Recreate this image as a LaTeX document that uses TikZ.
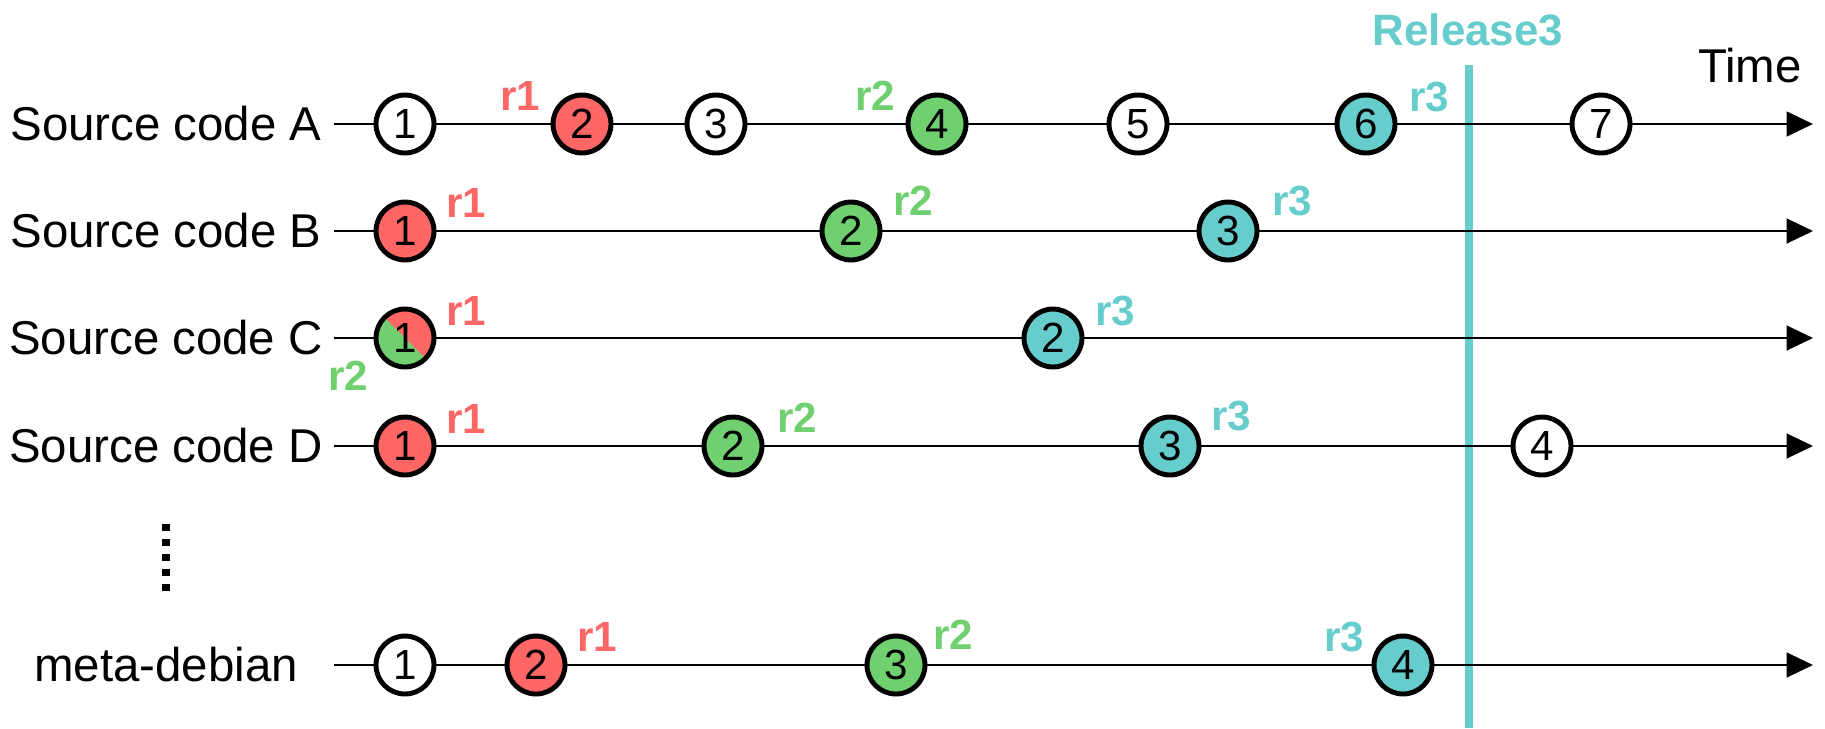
\documentclass[tikz,border=0pt]{standalone}
\usepackage{fontspec}
\setmainfont{Liberation Sans}
\usetikzlibrary{arrows.meta}

\definecolor{rred}{RGB}{255,102,102}
\definecolor{rgreen}{RGB}{112,208,112}
\definecolor{rcyan}{RGB}{102,204,204}

\begin{document}
\begin{tikzpicture}[x=0.02cm,y=-0.02cm,
  commit/.style={circle,draw,line width=2.8pt,minimum size=1.16cm,inner sep=0pt,fill=white,font=\fontsize{24}{26}\selectfont},
  rowname/.style={font=\fontsize{27}{30}\selectfont},
  rlab/.style={font=\bfseries\fontsize{24}{26}\selectfont},
  timeline/.style={line width=1.5pt},
  timeend/.style={line width=1.5pt,-{Triangle[length=15pt,width=14pt]}}]
\useasboundingbox (0,0) rectangle (1825,728);

% release marker
\node[font=\bfseries\fontsize{25}{28}\selectfont,text=rcyan] (rel) at (1468,30) { Release3 } ;
\coordinate (reltop) at (1469,65) ;
\coordinate (relbot) at (1469,728) ;
\draw[rcyan,line width=4.4pt] (reltop) -- (relbot) ;
\node[rowname] (time) at (1750,66) { Time } ;

% row names
\node[rowname] (na) at (166,124) { Source code A } ;
\node[rowname] (nb) at (166,231) { Source code B } ;
\node[rowname] (nc) at (166,338) { Source code C } ;
\node[rowname] (nd) at (166,446) { Source code D } ;
\node[rowname] (nm) at (166,665) { meta-debian } ;
\coordinate (dtop) at (166,524) ;
\coordinate (dbot) at (166,596) ;
\draw[line width=4pt,dash pattern=on 4pt off 4.5pt] (dtop) -- (dbot) ;

% source code A
\node[commit] (a1) at (405,124) { 1 } ;
\node[commit,fill=rred] (a2) at (582,124) { 2 } ;
\node[commit] (a3) at (716,124) { 3 } ;
\node[commit,fill=rgreen] (a4) at (937,124) { 4 } ;
\node[commit] (a5) at (1138,124) { 5 } ;
\node[commit,fill=rcyan] (a6) at (1366,124) { 6 } ;
\node[commit] (a7) at (1601,124) { 7 } ;
\node[rlab,text=rred] (ra1) at (520,96) { r1 } ;
\node[rlab,text=rgreen] (ra2) at (875,96) { r2 } ;
\node[rlab,text=rcyan] (ra3) at (1429,97) { r3 } ;

% source code B
\node[commit,fill=rred] (b1) at (405,231) { 1 } ;
\node[commit,fill=rgreen] (b2) at (851,231) { 2 } ;
\node[commit,fill=rcyan] (b3) at (1228,231) { 3 } ;
\node[rlab,text=rred] (rb1) at (466,203) { r1 } ;
\node[rlab,text=rgreen] (rb2) at (913,201) { r2 } ;
\node[rlab,text=rcyan] (rb3) at (1292,201) { r3 } ;

% source code C
\node[commit,fill=rred,path picture={\fill[rgreen] (path picture bounding box.north west) -- (path picture bounding box.south west) -- (path picture bounding box.south east) -- cycle;}] (c1) at (405,338) { 1 } ;
\node[commit,fill=rcyan] (c2) at (1053,338) { 2 } ;
\node[rlab,text=rred] (rc1) at (466,311) { r1 } ;
\node[rlab,text=rgreen] (rc2) at (348,376) { r2 } ;
\node[rlab,text=rcyan] (rc3) at (1115,311) { r3 } ;

% source code D
\node[commit,fill=rred] (d1) at (405,446) { 1 } ;
\node[commit,fill=rgreen] (d2) at (733,446) { 2 } ;
\node[commit,fill=rcyan] (d3) at (1170,446) { 3 } ;
\node[commit] (d4) at (1542,446) { 4 } ;
\node[rlab,text=rred] (rd1) at (466,419) { r1 } ;
\node[rlab,text=rgreen] (rd2) at (797,418) { r2 } ;
\node[rlab,text=rcyan] (rd3) at (1231,416) { r3 } ;

% meta-debian
\node[commit] (m1) at (405,665) { 1 } ;
\node[commit,fill=rred] (m2) at (536,665) { 2 } ;
\node[commit,fill=rgreen] (m3) at (896,665) { 3 } ;
\node[commit,fill=rcyan] (m4) at (1403,665) { 4 } ;
\node[rlab,text=rred] (rm1) at (597,637) { r1 } ;
\node[rlab,text=rgreen] (rm2) at (953,635) { r2 } ;
\node[rlab,text=rcyan] (rm3) at (1344,637) { r3 } ;

% time lines
\coordinate (sa) at (334,124) ; \coordinate (ea) at (1813,124) ;
\coordinate (sb) at (334,231) ; \coordinate (eb) at (1813,231) ;
\coordinate (sc) at (334,338) ; \coordinate (ec) at (1813,338) ;
\coordinate (sd) at (334,446) ; \coordinate (ed) at (1813,446) ;
\coordinate (sm) at (334,665) ; \coordinate (em) at (1813,665) ;

\draw[timeline] (sa) -- (a1) -- (a2) -- (a3) -- (a4) -- (a5) -- (a6) -- (a7) ;
\draw[timeend] (a7) -- (ea) ;
\draw[timeline] (sb) -- (b1) -- (b2) -- (b3) ;
\draw[timeend] (b3) -- (eb) ;
\draw[timeline] (sc) -- (c1) -- (c2) ;
\draw[timeend] (c2) -- (ec) ;
\draw[timeline] (sd) -- (d1) -- (d2) -- (d3) -- (d4) ;
\draw[timeend] (d4) -- (ed) ;
\draw[timeline] (sm) -- (m1) -- (m2) -- (m3) -- (m4) ;
\draw[timeend] (m4) -- (em) ;

\end{tikzpicture}
\end{document}
